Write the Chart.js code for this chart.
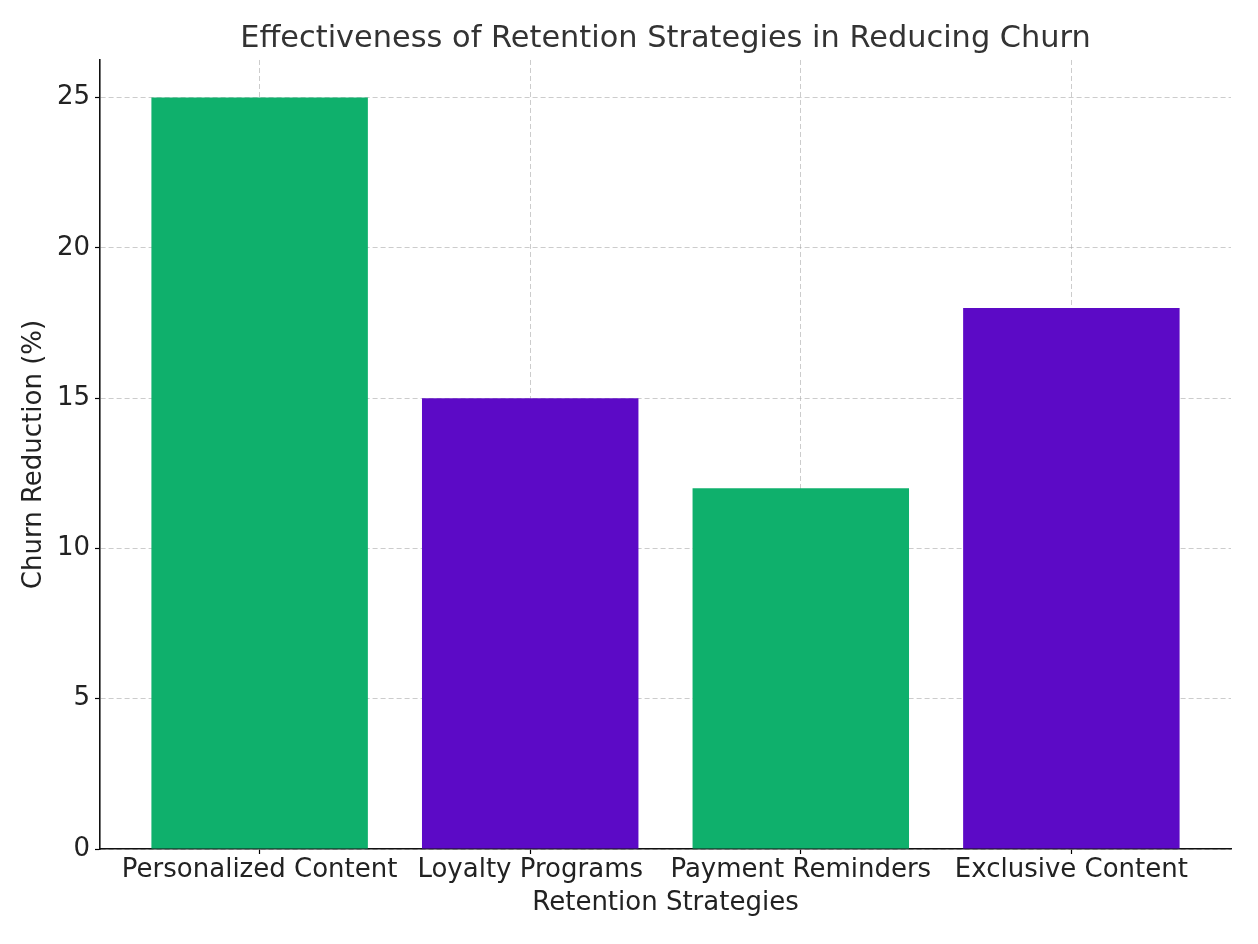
<!DOCTYPE html>
<html>
<head>
<meta charset="utf-8">
<script src="https://cdn.jsdelivr.net/npm/chart.js@4"></script>
<style>
html,body{margin:0;padding:0;background:#fff;}
#wrap{width:1258px;height:944px;position:relative;}
</style>
</head>
<body>
<div id="wrap"><canvas id="c" width="1258" height="944"></canvas></div>
<script>
const categories = ["Personalized Content", "Loyalty Programs", "Payment Reminders", "Exclusive Content"];
const churnReduction = [25, 15, 12, 18];
const barColors = ["#0fb06c", "#5c0ac6", "#0fb06c", "#5c0ac6"];
const yTicks = [0, 5, 10, 15, 20, 25];

const FONT = "'DejaVu Sans', sans-serif";
const gridColor = "rgba(170,170,170,0.6)";
const xPositions = categories.map((c, i) => i);

new Chart(document.getElementById('c'), {
  type: 'bar',
  data: {
    datasets: [{
      data: churnReduction.map((v, i) => ({ x: xPositions[i], y: v })),
      backgroundColor: barColors,
      borderWidth: 0,
      barPercentage: 0.8,
      categoryPercentage: 1.0
    }]
  },
  options: {
    responsive: false,
    animation: false,
    devicePixelRatio: 1,
    layout: { padding: { left: 0, right: 27, top: 0, bottom: 0 } },
    plugins: {
      legend: { display: false },
      tooltip: { enabled: false },
      title: {
        display: true,
        fullSize: false,
        text: "Effectiveness of Retention Strategies in Reducing Churn",
        color: "#333333",
        font: { family: FONT, size: 30.4, weight: 'normal' },
        padding: { top: 21, bottom: 2.5 }
      }
    },
    scales: {
      x: {
        type: 'linear',
        z: 1,
        offset: false,
        min: -0.59,
        max: 3.59,
        afterBuildTicks: s => { s.ticks = xPositions.map(v => ({ value: v })); },
        grid: {
          offset: false,
          color: gridColor,
          lineWidth: 1,
          tickLength: 5,
          tickColor: "#000",
          tickWidth: 1.2,
          drawTicks: true
        },
        border: { display: true, color: "#111", width: 1.6, dash: [5, 3] },
        ticks: {
          color: "#222",
          font: { family: FONT, size: 26 },
          padding: 1,
          maxRotation: 0,
          autoSkip: false,
          callback: v => categories[v]
        },
        title: {
          display: true,
          text: "Retention Strategies",
          color: "#222",
          font: { family: FONT, size: 26 },
          padding: { top: 0, bottom: 25 }
        },
        afterFit: s => { s.height = 95; }
      },
      y: {
        z: 1,
        min: 0,
        max: 26.25,
        afterBuildTicks: s => { s.ticks = yTicks.map(v => ({ value: v })); },
        grid: {
          color: gridColor,
          lineWidth: 1,
          tickLength: 5,
          tickColor: "#000",
          tickWidth: 1.2
        },
        border: { display: true, color: "#111", width: 1.6, dash: [5, 3] },
        ticks: {
          color: "#222",
          font: { family: FONT, size: 26 },
          padding: 5,
          includeBounds: false
        },
        title: {
          display: true,
          text: "Churn Reduction (%)",
          color: "#222",
          font: { family: FONT, size: 26 },
          padding: { top: 19, bottom: 0 }
        },
        afterFit: s => { s.width = 100; }
      }
    }
  }
});
</script>
</body>
</html>
